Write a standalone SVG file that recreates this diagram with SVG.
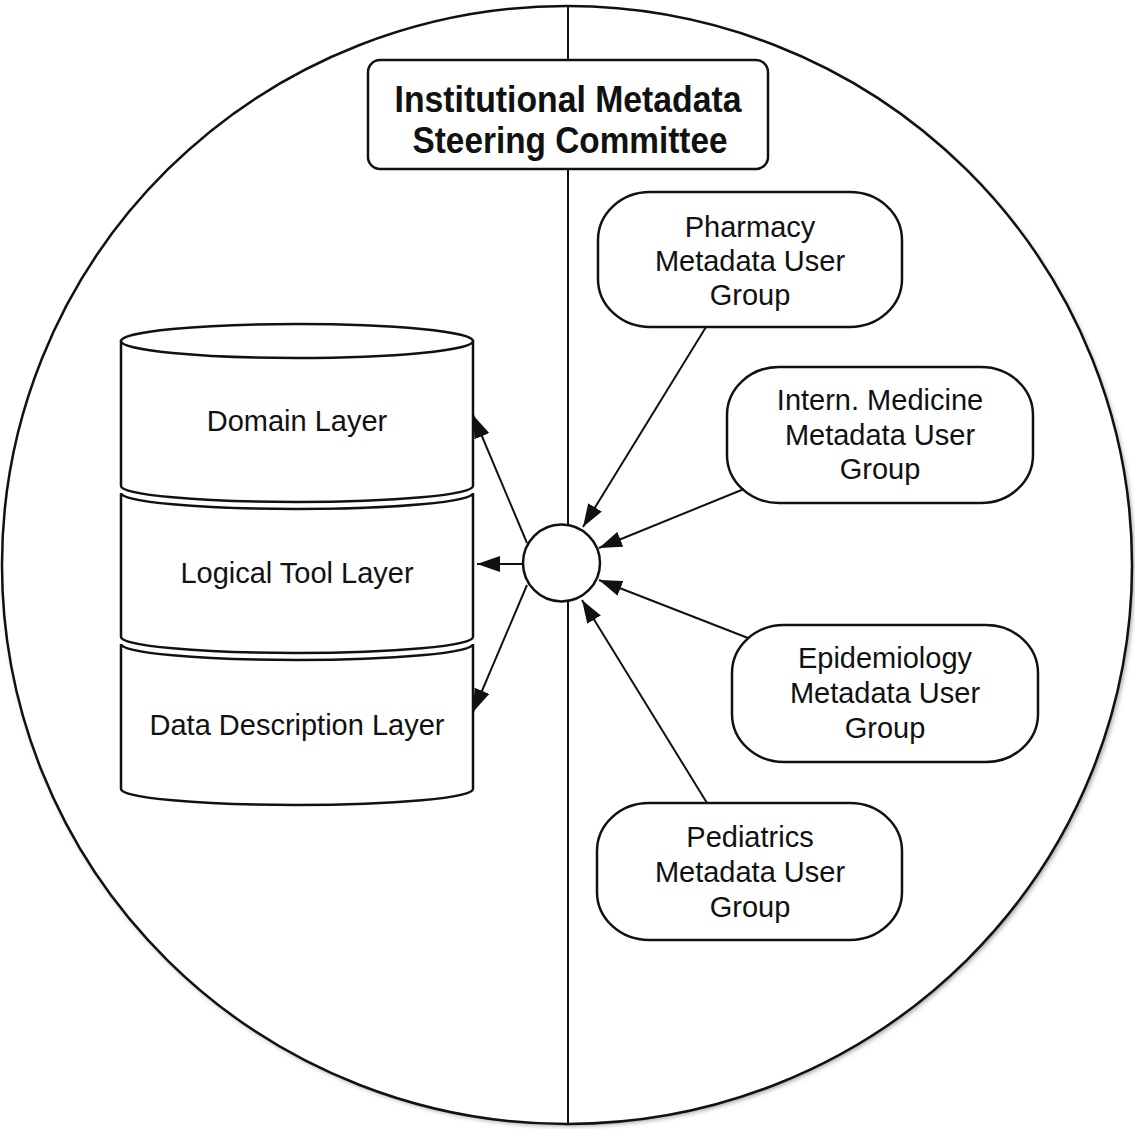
<svg xmlns="http://www.w3.org/2000/svg" width="1135" height="1129" viewBox="0 0 1135 1129">
  <defs>
    <style>
      .outline { fill: #fff; stroke: #111; stroke-width: 2.5; }
      .axis { stroke: #111; stroke-width: 2; fill: none; }
      .conn { stroke: #111; stroke-width: 2; fill: none; marker-end: url(#arrow); }
      .label { font-family: "Liberation Sans", Arial, Helvetica, sans-serif; font-size: 29px; fill: #111; text-anchor: middle; }
      .title { font-family: "Liberation Sans", Arial, Helvetica, sans-serif; font-size: 36px; font-weight: bold; fill: #111; text-anchor: middle; }
    </style>
    <marker id="arrow" viewBox="0 0 23 16" refX="23" refY="8" markerWidth="23" markerHeight="16" markerUnits="userSpaceOnUse" orient="auto">
      <path d="M0,0 L23,8 L0,16 Z" fill="#111"/>
    </marker>
    <filter id="soft" x="-5%" y="-5%" width="110%" height="110%">
      <feGaussianBlur stdDeviation="2.5"/>
    </filter>
  </defs>

  <rect width="1135" height="1129" fill="#fff"/>

  <!-- outer boundary with a faint shadow below -->
  <g id="boundary">
    <ellipse cx="569" cy="568" rx="565" ry="558" fill="#999" filter="url(#soft)"/>
    <ellipse cx="567" cy="565" rx="565" ry="559" class="outline"/>
    <line x1="568" y1="7" x2="568" y2="1123" class="axis"/>
  </g>

  <!-- steering committee -->
  <g id="steering-committee">
    <rect x="368" y="60" width="400" height="109" rx="12" ry="12" class="outline"/>
    <text x="568" y="112" class="title" textLength="347" lengthAdjust="spacingAndGlyphs">Institutional Metadata</text>
    <text x="570" y="153" class="title" textLength="315" lengthAdjust="spacingAndGlyphs">Steering Committee</text>
  </g>

  <!-- layered repository -->
  <g id="domain-layer">
    <path d="M121,341 L121,486 A176,16 0 0 0 473,486 L473,341 Z" class="outline"/>
    <ellipse cx="297" cy="341" rx="176" ry="17" class="outline"/>
    <text x="297" y="431" class="label">Domain Layer</text>
  </g>
  <g id="logical-tool-layer">
    <path d="M121,493 L121,637 A176,16 0 0 0 473,637 L473,493 A176,16 0 0 1 121,493 Z" class="outline"/>
    <text x="297" y="583" class="label">Logical Tool Layer</text>
  </g>
  <g id="data-description-layer">
    <path d="M121,644 L121,789 A176,16 0 0 0 473,789 L473,644 A176,16 0 0 1 121,644 Z" class="outline"/>
    <text x="297" y="735" class="label">Data Description Layer</text>
  </g>

  <!-- user groups -->
  <g id="pharmacy-group">
    <rect x="598" y="192" width="304" height="135" rx="52" ry="48" class="outline"/>
    <text x="750" y="237" class="label">Pharmacy</text>
    <text x="750" y="271" class="label">Metadata User</text>
    <text x="750" y="305" class="label">Group</text>
  </g>
  <g id="internal-medicine-group">
    <rect x="727" y="367" width="306" height="136" rx="52" ry="48" class="outline"/>
    <text x="880" y="410" class="label">Intern. Medicine</text>
    <text x="880" y="445" class="label">Metadata User</text>
    <text x="880" y="479" class="label">Group</text>
  </g>
  <g id="epidemiology-group">
    <rect x="732" y="625" width="306" height="137" rx="52" ry="48" class="outline"/>
    <text x="885" y="668" class="label">Epidemiology</text>
    <text x="885" y="703" class="label">Metadata User</text>
    <text x="885" y="738" class="label">Group</text>
  </g>
  <g id="pediatrics-group">
    <rect x="597" y="803" width="305" height="137" rx="52" ry="48" class="outline"/>
    <text x="750" y="847" class="label">Pediatrics</text>
    <text x="750" y="882" class="label">Metadata User</text>
    <text x="750" y="917" class="label">Group</text>
  </g>

  <!-- connectors -->
  <g id="connectors">
    <line x1="527" y1="543" x2="473" y2="415" class="conn"/>
    <line x1="523" y1="564" x2="477" y2="564" class="conn"/>
    <line x1="527" y1="585" x2="473" y2="712" class="conn"/>
    <line x1="706" y1="327" x2="583" y2="527" class="conn"/>
    <line x1="744" y1="489" x2="599" y2="548" class="conn"/>
    <line x1="748" y1="638" x2="599" y2="580" class="conn"/>
    <line x1="707" y1="803" x2="582" y2="600" class="conn"/>
  </g>

  <!-- hub -->
  <g id="hub">
    <circle cx="561.5" cy="563" r="38.5" class="outline"/>
  </g>
</svg>
